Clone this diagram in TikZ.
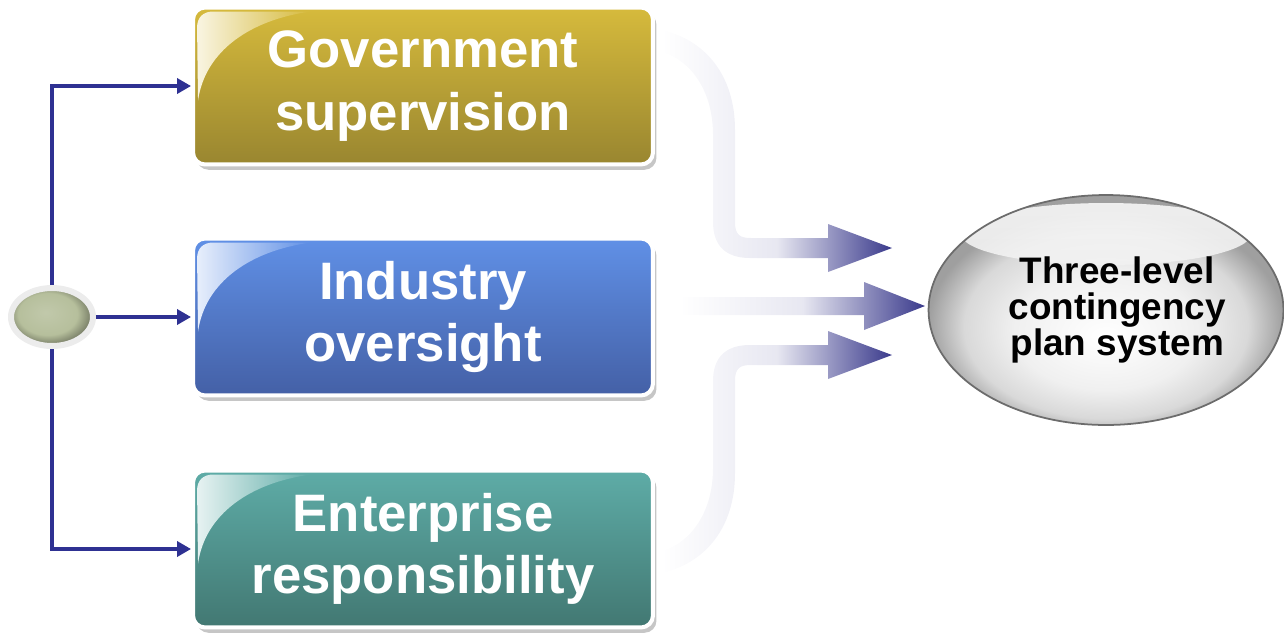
\documentclass[tikz,border=0pt]{standalone}
\usepackage{fontspec}
\setmainfont{Liberation Sans}
\usetikzlibrary{arrows.meta,shadows,shapes.geometric,positioning}
\definecolor{govtop}{HTML}{D6BA3C}
\definecolor{govbot}{HTML}{998630}
\definecolor{indtop}{HTML}{6090E6}
\definecolor{indbot}{HTML}{4460A6}
\definecolor{enttop}{HTML}{5EACA7}
\definecolor{entbot}{HTML}{427872}
\definecolor{linkblue}{HTML}{2E3192}
\definecolor{flowblue}{HTML}{3A3A8C}
\definecolor{hubgreen}{HTML}{B6BF9C}
\pgfdeclareradialshading{glassball}{\pgfpoint{0bp}{-6bp}}{color(0bp)=(white); color(13bp)=(gray!12);
  color(20bp)=(gray!30); color(25bp)=(gray!75); color(50bp)=(gray!75)}
\pgfdeclareradialshading{hubball}{\pgfpoint{-4bp}{4bp}}{color(0bp)=(hubgreen!85!white); color(18bp)=(hubgreen);
  color(25bp)=(hubgreen!70!black); color(50bp)=(hubgreen!70!black)}
\tikzset{
  levelbox/.style={draw=white, line width=0.08cm, rounded corners=0.24cm,
    minimum width=9.2cm, minimum height=3.14cm, align=center, text=white,
    font=\fontsize{30}{35.5}\selectfont\bfseries,
    drop shadow={shadow xshift=2pt, shadow yshift=-3pt, opacity=0.45}},
  link/.style={linkblue, line width=2.2pt, -{Triangle[length=0.28cm,width=0.3cm]}},
  flow/.style={left color=white, right color=flowblue, middle color=flowblue!12}
}
\begin{document}
\begin{tikzpicture}[x=0.02cm, y=-0.02cm]
\useasboundingbox (0,0) rectangle (1284,633);
% three levels
\node[levelbox, top color=govtop, bottom color=govbot] (gov) at (423,86) {Government\\supervision};
\node[levelbox, top color=indtop, bottom color=indbot] (ind) at (423,317) {Industry\\oversight};
\node[levelbox, top color=enttop, bottom color=entbot] (ent) at (423,549) {Enterprise\\responsibility};
\foreach \b/\col in {gov/govtop, ind/indtop, ent/enttop}{
  \begin{scope}[shift={(\b.north west)}]
    \shade[left color=white!85!\col, right color=\col] (6,22) .. controls (6,12) and (12,6) .. (22,6)
      -- (120,6) .. controls (60,14) and (14,45) .. (7,95) -- cycle;
  \end{scope}
}
% hub and links
\node[ellipse, minimum width=1.64cm, minimum height=1.16cm, draw=gray!15, line width=0.12cm,
  shading=hubball] (hub) at (52,317) {};
\draw[link] (hub.north) |- (gov.west);
\draw[link] (hub.east) -- (ind.west);
\draw[link] (hub.south) |- (ent.west);
% result
\node[ellipse, minimum width=7.1cm, minimum height=4.6cm, inner sep=0pt, draw=gray!85!black, line width=1pt,
  shading=glassball, align=center,
  font=\fontsize{21}{20.5}\selectfont\bfseries,
  path picture={\shade[top color=gray!6, bottom color=gray!22, opacity=0.9]
    ([yshift=-0.78cm]path picture bounding box.north) ellipse [x radius=2.9cm, y radius=0.62cm];}]
  (sys) at (1106,310) {\hspace*{0.45cm}Three-level\\\hspace*{0.45cm}contingency\\\hspace*{0.45cm}plan system};
% flows
\foreach \s/\t in {0/1, 603/-1}{
  \begin{scope}[shift={(0,\s)}, yscale=\t]
    \shade[flow] (662,30) .. controls (705,40) and (735,75) .. (735,130) -- (735,222)
      .. controls (735,235) and (740,238) .. (751,238) -- (828,238) -- (828,224) -- (892,248)
      -- (828,272) -- (828,258) -- (750,258) .. controls (725,258) and (713,245) .. (713,222)
      -- (713,135) .. controls (713,90) and (690,60) .. (662,52) -- cycle;
  \end{scope}
}
\shade[flow] (680,297) -- (864,297) -- (864,282) -- (925,306) -- (864,330) -- (864,315) -- (680,315) -- cycle;
\end{tikzpicture}
\end{document}
